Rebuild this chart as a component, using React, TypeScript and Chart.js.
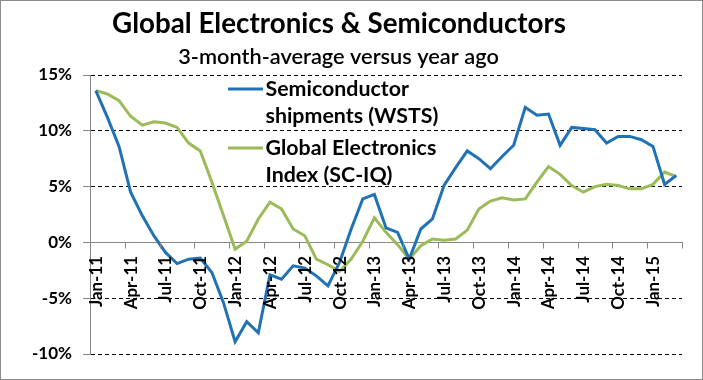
import React, { useEffect, useRef } from 'react';
import { Chart, registerables } from 'chart.js';

Chart.register(...registerables);

const months = [
  'Jan-11', 'Feb-11', 'Mar-11', 'Apr-11', 'May-11', 'Jun-11', 'Jul-11', 'Aug-11', 'Sep-11', 'Oct-11', 'Nov-11', 'Dec-11',
  'Jan-12', 'Feb-12', 'Mar-12', 'Apr-12', 'May-12', 'Jun-12', 'Jul-12', 'Aug-12', 'Sep-12', 'Oct-12', 'Nov-12', 'Dec-12',
  'Jan-13', 'Feb-13', 'Mar-13', 'Apr-13', 'May-13', 'Jun-13', 'Jul-13', 'Aug-13', 'Sep-13', 'Oct-13', 'Nov-13', 'Dec-13',
  'Jan-14', 'Feb-14', 'Mar-14', 'Apr-14', 'May-14', 'Jun-14', 'Jul-14', 'Aug-14', 'Sep-14', 'Oct-14', 'Nov-14', 'Dec-14',
  'Jan-15', 'Feb-15', 'Mar-15',
];

const semiconductorShipments = [
  13.6, 11.2, 8.6, 4.5, 2.4, 0.6, -0.9, -1.9, -1.5, -1.4,
  -2.7, -5.4, -8.9, -7.1, -8.1, -2.9, -3.3, -2.1, -2.3, -3.0,
  -3.9, -1.8, 1.2, 3.9, 4.3, 1.3, 0.9, -1.5, 1.2, 2.1,
  5.1, 6.7, 8.2, 7.5, 6.6, 7.7, 8.7, 12.1, 11.4, 11.5,
  8.7, 10.3, 10.2, 10.1, 8.9, 9.5, 9.5, 9.2, 8.6, 5.2,
  6.0,
];

const globalElectronicsIndex = [
  13.6, 13.3, 12.7, 11.3, 10.5, 10.8, 10.7, 10.3, 8.9, 8.2,
  5.4, 2.4, -0.6, 0.1, 2.1, 3.6, 3.0, 1.2, 0.6, -1.5,
  -2.0, -2.6, -1.5, 0.1, 2.2, 0.9, -0.2, -1.5, -0.3, 0.3,
  0.2, 0.3, 1.1, 3.0, 3.7, 4.0, 3.8, 3.9, 5.4, 6.8,
  6.1, 5.1, 4.5, 5.0, 5.2, 5.1, 4.8, 4.8, 5.2, 6.3,
  5.9,
];

const seriesNames = [['Semiconductor', 'shipments (WSTS)'], ['Global Electronics', 'Index (SC-IQ)']];
const titleText = 'Global Electronics & Semiconductors';
const subtitleText = '3-month-average versus year ago';
const yMin = -10;
const yMax = 15;
const yStep = 5;
const labelEvery = 3;

const BLUE = '#2172b4';
const GREEN = '#9bbb59';
const AXIS_GRAY = '#868686';
const FONT = 'Lato, "Open Sans", "Liberation Sans", sans-serif';

function fitSize(ctx: CanvasRenderingContext2D, text: string, weight: string, target: number) {
  ctx.font = `${weight} 100px ${FONT}`;
  const w = ctx.measureText(text).width;
  return (100 * target) / w;
}

export default function App() {
  const ref = useRef<HTMLCanvasElement>(null);

  useEffect(() => {
    document.body.style.margin = '0';
    const canvas = ref.current;
    if (!canvas) return;

    const m = document.createElement('canvas').getContext('2d') as CanvasRenderingContext2D;
    const xFontSize = Math.round(fitSize(m, 'Jan-11', 'bold', 51) * 10) / 10;
    const yFontSize = Math.round(fitSize(m, '-10%', 'bold', 40) * 10) / 10;

    const deco = {
      id: 'deco',
      beforeDraw(chart: any) {
        const c = chart.ctx as CanvasRenderingContext2D;
        c.save();
        c.fillStyle = '#ffffff';
        c.fillRect(0, 0, chart.width, chart.height);
        c.restore();
      },
      afterDraw(chart: any) {
        const c = chart.ctx as CanvasRenderingContext2D;
        c.save();
        const xs = chart.scales.x;
        const ys = chart.scales.y;
        const y0 = Math.round(ys.getPixelForValue(0)) + 0.5;

        c.strokeStyle = AXIS_GRAY;
        c.lineWidth = 1;
        for (let k = 0; k <= months.length; k += labelEvery) {
          const px = Math.round(xs.getPixelForValue(k - 0.5)) + 0.5;
          c.beginPath();
          c.moveTo(px, y0);
          c.lineTo(px, y0 + 6);
          c.stroke();
        }

        c.fillStyle = '#000';
        c.font = `bold ${xFontSize}px ${FONT}`;
        c.textAlign = 'right';
        c.textBaseline = 'middle';
        for (let k = 0; k < months.length; k += labelEvery) {
          const px = xs.getPixelForValue(k) + 0.5;
          c.save();
          c.translate(px, y0 + 13.5);
          c.rotate(-Math.PI / 2);
          c.fillText(months[k], 0, 0);
          c.restore();
        }

        c.strokeStyle = '#8a8a8a';
        c.strokeRect(0.5, 0.5, chart.width - 1, chart.height - 1);
        c.fillStyle = '#000';
        c.textAlign = 'center';
        c.textBaseline = 'alphabetic';
        const ts = fitSize(c, titleText, 'bold', 454);
        c.font = `bold ${ts}px ${FONT}`;
        c.fillText(titleText, 339, 33);
        const ss = fitSize(c, subtitleText, '600', 321);
        c.font = `600 ${ss}px ${FONT}`;
        c.fillText(subtitleText, 338.5, 64);

        const ls = fitSize(c, seriesNames[0][1], 'bold', 173);
        c.font = `bold ${ls}px ${FONT}`;
        c.textAlign = 'left';
        const entries = [
          { color: BLUE, lineY: 89, base: 96 },
          { color: GREEN, lineY: 148, base: 155 },
        ];
        entries.forEach((e, i) => {
          c.strokeStyle = e.color;
          c.lineWidth = 3;
          c.beginPath();
          c.moveTo(228, e.lineY);
          c.lineTo(263, e.lineY);
          c.stroke();
          c.fillStyle = '#000';
          c.fillText(seriesNames[i][0], 265.5, e.base);
          c.fillText(seriesNames[i][1], 265.5, e.base + 27);
        });
        c.restore();
      },
    };

    const chart = new Chart(canvas, {
      type: 'line',
      data: {
        labels: months,
        datasets: [
          {
            label: seriesNames[0].join(' '),
            data: semiconductorShipments,
            borderColor: BLUE,
            backgroundColor: BLUE,
            borderWidth: 3,
            pointRadius: 0,
            tension: 0,
          },
          {
            label: seriesNames[1].join(' '),
            data: globalElectronicsIndex,
            borderColor: GREEN,
            backgroundColor: GREEN,
            borderWidth: 3,
            pointRadius: 0,
            tension: 0,
          },
        ],
      },
      options: {
        responsive: false,
        animation: false,
        devicePixelRatio: 1,
        layout: { padding: { top: 75, right: 21, bottom: 26, left: 0 } },
        plugins: {
          legend: { display: false },
          title: { display: false },
          tooltip: { enabled: false },
        },
        scales: {
          x: {
            type: 'category',
            position: { y: 0 } as any,
            offset: true,
            grid: {
              offset: true,
              drawOnChartArea: false,
              drawTicks: false,
            },
            border: { color: AXIS_GRAY, width: 1 },
            ticks: { display: false, autoSkip: false },
            afterFit: (s: any) => {
              s.height = 0;
            },
          },
          y: {
            min: yMin,
            max: yMax,
            grid: {
              color: (ctx: any) => (ctx.tick && ctx.tick.value === 0 ? 'rgba(0,0,0,0)' : '#000'),
              tickColor: AXIS_GRAY,
              tickLength: 7,
              lineWidth: 1,
            },
            border: { color: AXIS_GRAY, width: 1, dash: [4, 3] },
            ticks: {
              stepSize: yStep,
              padding: 11,
              color: '#000',
              font: { family: FONT, weight: 'bold', size: yFontSize },
              callback: (v: any) => `${v}%`,
            },
            afterFit: (s: any) => {
              s.width = 90;
            },
          },
        },
      },
      plugins: [deco],
    });

    return () => chart.destroy();
  }, []);

  return (
    <div style={{ width: 703, height: 380 }}>
      <canvas ref={ref} width={703} height={380} style={{ display: 'block', width: 703, height: 380 }} />
    </div>
  );
}
